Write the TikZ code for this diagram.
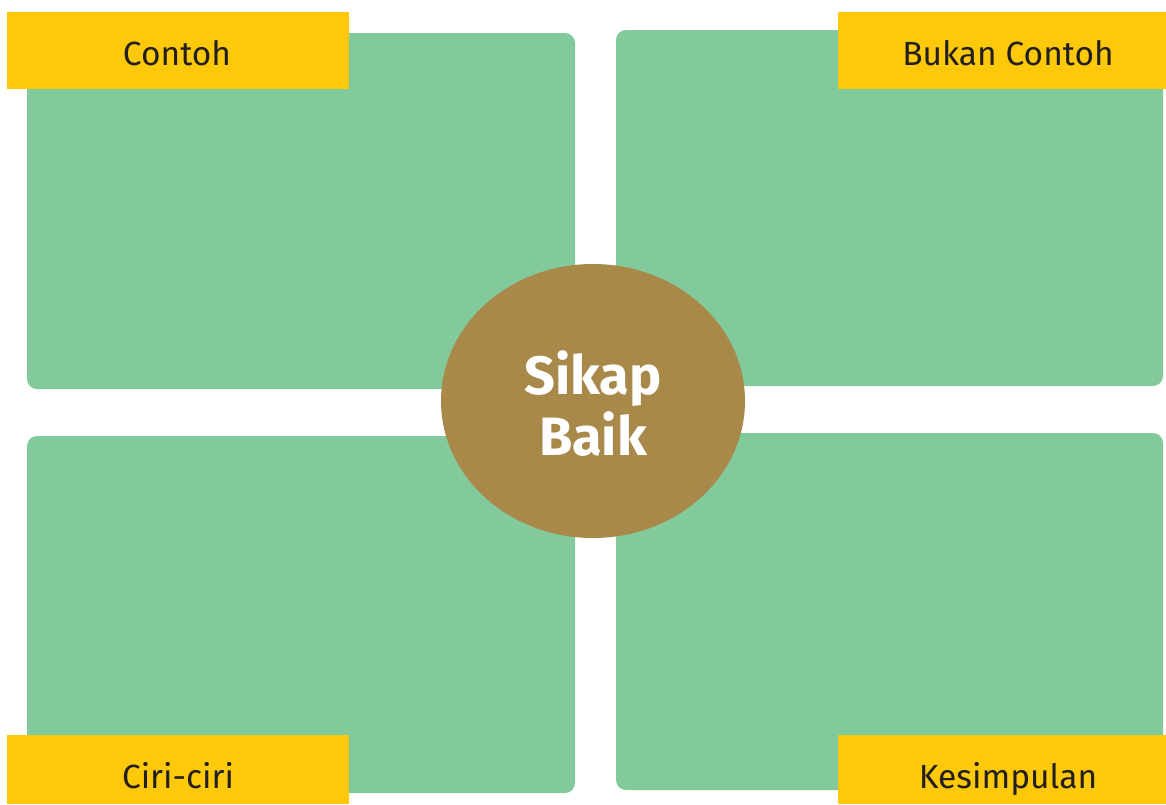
\documentclass[tikz,border=0pt]{standalone}
\usepackage{fontspec}
\setmainfont{Fira Sans}
\usetikzlibrary{shapes.geometric}
\definecolor{boxgreen}{HTML}{82CA9C}
\definecolor{labyellow}{HTML}{FDC90A}
\definecolor{hubbrown}{HTML}{A8894A}
\definecolor{labtext}{HTML}{231F20}
\begin{document}
\begin{tikzpicture}[x=1pt,y=-1pt,
  panel/.style={fill=boxgreen,rounded corners=10pt},
  tab/.style={fill=labyellow},
  tabtext/.style={anchor=base,text=labtext,font=\fontsize{33.5}{38}\selectfont,inner sep=0pt},
  hub/.style={ellipse,fill=hubbrown,minimum width=304pt,minimum height=274pt,inner sep=0pt,
    text=white,align=center,font=\fontsize{54}{61}\selectfont\bfseries}]
\useasboundingbox[fill=white] (0,0) rectangle (1166,804);
% panels
\fill[panel] (27,33) rectangle (575,389);
\fill[panel] (616,30) rectangle (1163,386);
\fill[panel] (27,436) rectangle (575,793);
\fill[panel] (616,433) rectangle (1163,790);
% tabs
\fill[tab] (7,12) rectangle (349,89);
\fill[tab] (838,12) rectangle (1166,89);
\fill[tab] (7,735) rectangle (349,804);
\fill[tab] (838,735) rectangle (1166,804);
\node[tabtext] (l1) at (177,65) {Contoh};
\node[tabtext] (l2) at (1008,65) {Bukan Contoh};
\node[tabtext] (l3) at (178,788) {Ciri-ciri};
\node[tabtext] (l4) at (1008,788) {Kesimpulan};
% hub
\node[hub] (hub) at (593,401) {};
\node[text=white,align=center,font=\fontsize{54}{61}\selectfont\bfseries,inner sep=0pt]
  (hubtext) at ([yshift=-3pt]hub.center) {Sikap\\Baik};
\end{tikzpicture}
\end{document}
